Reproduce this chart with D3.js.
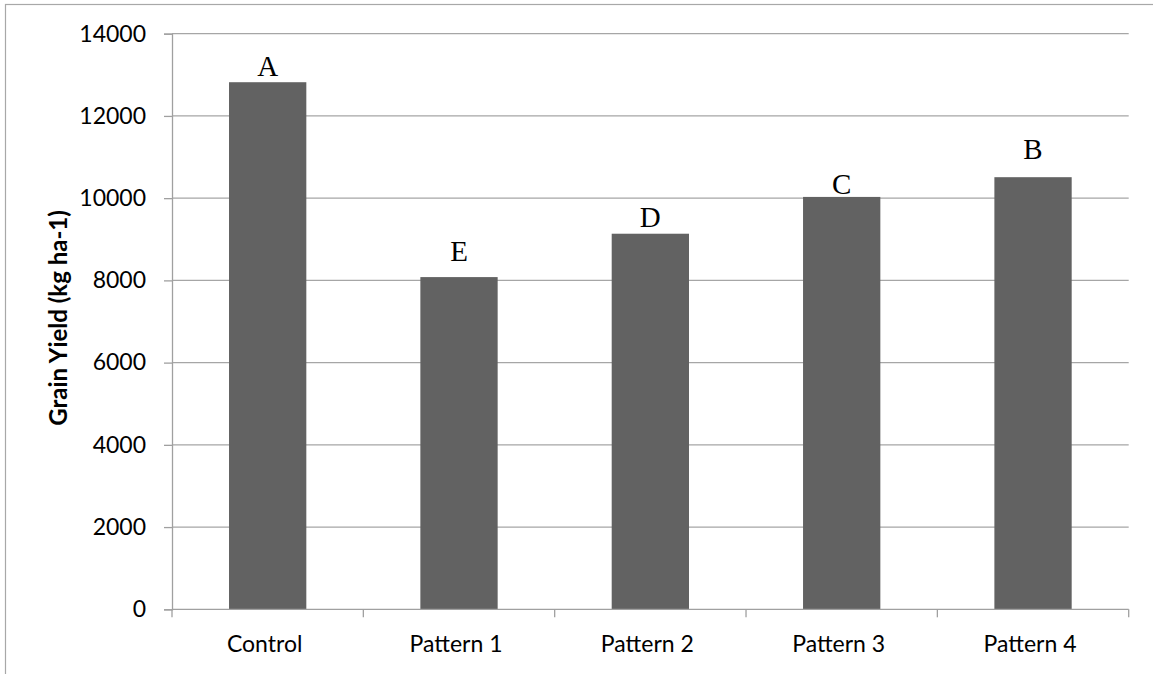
<!DOCTYPE html>
<html><head><meta charset="utf-8">
<script src="https://cdn.jsdelivr.net/npm/d3@7"></script>
<style>
html,body{margin:0;padding:0;background:#fff;}
svg{display:block;}
</style>
</head><body>
<svg id="chart" width="1153" height="674"></svg>
<script>
// ---- data ----
const categories = ["Control", "Pattern 1", "Pattern 2", "Pattern 3", "Pattern 4"];
const grainYield = [12820, 8080, 9135, 10030, 10510];
const groupLetters = ["A", "E", "D", "C", "B"];
const letterBaseline = [12975, 8475, 9310, 10095, 10955]; // letter baselines, in kg ha-1
const yTicks = [0, 2000, 4000, 6000, 8000, 10000, 12000, 14000];
const yTitle = "Grain Yield (kg ha-1)";

// ---- layout ----
const plot = {left: 172, right: 1128.7, top: 33.7, bottom: 609.3};
const svg = d3.select("#chart");
const gridColor = "#a6a6a6", axisColor = "#a0a0a0", barColor = "#626262";

// outer chart border (partially visible)
svg.append("rect").attr("x", 5.5).attr("y", 4.5).attr("width", 1300).attr("height", 1000)
  .attr("fill", "none").attr("stroke", "#a8a8a8").attr("stroke-width", 1.2);

const x = d3.scaleBand().domain(categories).range([plot.left, plot.right])
  .paddingInner(0.596).paddingOuter(0.298);
const y = d3.scaleLinear().domain([0, 14000]).range([plot.bottom, plot.top]);

// gridlines
svg.append("g").selectAll("line").data(yTicks.filter(d => d > 0)).join("line")
  .attr("x1", plot.left).attr("x2", plot.right)
  .attr("y1", d => y(d)).attr("y2", d => y(d))
  .attr("stroke", gridColor).attr("stroke-width", 1.3);

// y axis
const yAxis = d3.axisLeft(y).tickValues(yTicks).tickSize(8).tickPadding(18).tickFormat(d3.format("d"));
const gy = svg.append("g").attr("transform", `translate(${plot.left},0)`).call(yAxis);
gy.select(".domain").attr("stroke", axisColor).attr("stroke-width", 1.3);
gy.selectAll(".tick line").attr("stroke", axisColor).attr("stroke-width", 1.3);
gy.selectAll(".tick text").attr("font-family", "Lato, sans-serif").attr("font-size", 23).attr("fill", "#000");

// bars
svg.append("g").selectAll("rect").data(categories).join("rect")
  .attr("x", d => x(d)).attr("width", x.bandwidth())
  .attr("y", (d, i) => y(grainYield[i]))
  .attr("height", (d, i) => y(0) - y(grainYield[i]))
  .attr("fill", barColor);

// x axis line + boundary ticks
const step = x.step();
const bounds = d3.range(categories.length + 1).map(i => plot.left + i * step);
svg.append("line").attr("x1", plot.left).attr("x2", plot.right)
  .attr("y1", plot.bottom).attr("y2", plot.bottom)
  .attr("stroke", axisColor).attr("stroke-width", 1.3);
svg.append("g").selectAll("line").data(bounds).join("line")
  .attr("x1", d => d).attr("x2", d => d)
  .attr("y1", plot.bottom).attr("y2", plot.bottom + 8)
  .attr("stroke", axisColor).attr("stroke-width", 1.3);

// category labels
svg.append("g").selectAll("text").data(categories).join("text")
  .attr("x", d => x(d) + x.bandwidth() / 2 - 3).attr("y", plot.bottom + 43)
  .attr("text-anchor", "middle")
  .attr("font-family", "Lato, sans-serif").attr("font-size", 23).attr("fill", "#000")
  .text(d => d);

// group letters
svg.append("g").selectAll("text").data(categories).join("text")
  .attr("x", d => x(d) + x.bandwidth() / 2)
  .attr("y", (d, i) => y(letterBaseline[i]))
  .attr("text-anchor", "middle")
  .attr("font-family", "'Liberation Serif', 'Times New Roman', serif").attr("font-size", 29).attr("fill", "#000")
  .text((d, i) => groupLetters[i]);

// y title
svg.append("text")
  .attr("transform", `translate(67,318) rotate(-90)`)
  .attr("text-anchor", "middle")
  .attr("font-family", "Lato, sans-serif").attr("font-weight", "bold").attr("font-size", 24).attr("fill", "#000")
  .text(yTitle);
</script>
</body></html>
